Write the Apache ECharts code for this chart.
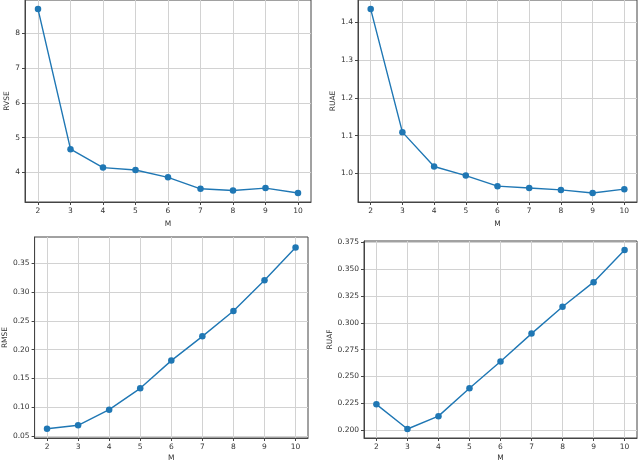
<!DOCTYPE html>
<html>
<head>
<meta charset="utf-8">
<script src="https://cdn.jsdelivr.net/npm/echarts@6/dist/echarts.min.js"></script>
<style>
  html, body { margin: 0; padding: 0; background: #fff; }
  #chart { width: 640px; height: 463px; }
</style>
</head>
<body>
<div id="chart"></div>
<script>
const mValues = [2, 3, 4, 5, 6, 7, 8, 9, 10];
const rvse = [8.70, 4.67, 4.14, 4.07, 3.86, 3.53, 3.48, 3.55, 3.41];
const ruae = [1.435, 1.109, 1.018, 0.994, 0.966, 0.961, 0.956, 0.948, 0.958];
const rmse = [0.063, 0.069, 0.096, 0.133, 0.181, 0.223, 0.267, 0.320, 0.377];
const ruaf = [0.224, 0.201, 0.213, 0.239, 0.264, 0.290, 0.315, 0.338, 0.368];

const yTicksTL = [4, 5, 6, 7, 8];
const yTicksTR = [1.0, 1.1, 1.2, 1.3, 1.4];
const yTicksBL = [0.05, 0.10, 0.15, 0.20, 0.25, 0.30, 0.35];
const yTicksBR = [0.200, 0.225, 0.250, 0.275, 0.300, 0.325, 0.350, 0.375];

const panels = [
    { name: 'RVSE', data: rvse, ticks: yTicksTL, min: 3.15, max: 8.96, digits: 0, yGap: 11, xGap: 18,
      grid: { left: 25, top: -1, width: 286, height: 203 } },
    { name: 'RUAE', data: ruae, ticks: yTicksTR, min: 0.924, max: 1.459, digits: 1, yGap: 20, xGap: 18,
      grid: { left: 358, top: -1, width: 279, height: 203 } },
    { name: 'RMSE', data: rmse, ticks: yTicksBL, min: 0.047, max: 0.395, digits: 2, yGap: 20, xGap: 16,
      grid: { left: 32, top: 237, width: 276, height: 204 } },
    { name: 'RUAF', data: ruaf, ticks: yTicksBR, min: 0.1926, max: 0.3764, digits: 3, yGap: 29, xGap: 16,
      grid: { left: 364, top: 241, width: 273, height: 200 } }
];

const textColor = '#333';
const gridColor = '#d2d2d2';
const font = { color: textColor, fontSize: 7.5, fontFamily: 'DejaVu Sans' };

const chart = echarts.init(document.getElementById('chart'));

chart.setOption({
    animation: false,
    grid: panels.map(p => Object.assign({
        show: true, borderColor: '#444', borderWidth: 1, backgroundColor: 'transparent'
    }, p.grid)),
    xAxis: panels.map((p, i) => ({
        type: 'value', gridIndex: i, min: 1.6, max: 10.4,
        name: 'M', nameLocation: 'middle', nameGap: p.xGap,
        nameTextStyle: font,
        axisLine: { show: true, lineStyle: { color: '#444' } },
        axisTick: { show: true, length: 3, lineStyle: { color: '#444' }, customValues: mValues },
        axisLabel: Object.assign({ margin: 5, customValues: mValues }, font),
        splitLine: { show: true, lineStyle: { color: gridColor, width: 1 } }
    })),
    yAxis: panels.map((p, i) => ({
        type: 'value', gridIndex: i, min: p.min, max: p.max,
        name: p.name, nameLocation: 'middle', nameGap: p.yGap,
        nameTextStyle: font,
        axisLine: { show: true, lineStyle: { color: '#444' } },
        axisTick: { show: true, length: 3, lineStyle: { color: '#444' }, customValues: p.ticks },
        axisLabel: Object.assign({
            margin: 5,
            customValues: p.ticks,
            formatter: v => v.toFixed(p.digits)
        }, font),
        splitLine: { show: true, lineStyle: { color: gridColor, width: 1 } }
    })),
    series: panels.map((p, i) => ({
        type: 'line', xAxisIndex: i, yAxisIndex: i,
        data: mValues.map((m, j) => [m, p.data[j]]),
        symbol: 'circle', symbolSize: 6.5, showSymbol: true,
        lineStyle: { color: '#1f77b4', width: 1.4 },
        itemStyle: { color: '#1f77b4' }
    }))
});
</script>
</body>
</html>
